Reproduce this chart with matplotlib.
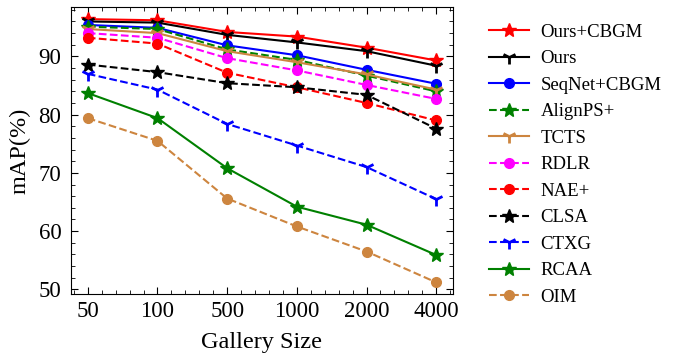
import matplotlib
matplotlib.use("Agg")
import matplotlib.pyplot as plt
from matplotlib.ticker import MultipleLocator

plt.rcParams['font.family'] = ['Liberation Serif', 'DejaVu Serif']
plt.rcParams['mathtext.fontset'] = 'stix'

gallery = ["50", "100", "500", "1000", "2000", "4000"]

ours_cbgm = [96.4, 96.2, 94.2, 93.4, 91.5, 89.3]
ours = [96.0, 95.8, 93.7, 92.4, 90.9, 88.4]
seqnet_cbgm = [95.4, 94.9, 91.9, 90.2, 87.7, 85.3]
alignps = [95.1, 94.7, 91.2, 89.4, 86.7, 84.0]
tcts = [94.7, 94.0, 90.9, 89.0, 86.9, 84.3]
rdlr = [94.0, 93.2, 89.7, 87.6, 85.1, 82.7]
nae = [93.2, 92.2, 87.2, 84.7, 82.0, 79.0]
clsa = [88.6, 87.3, 85.4, 84.7, 83.4, 77.6]
ctxg = [87.0, 84.3, 78.4, 74.7, 71.0, 65.5]
rcaa = [83.7, 79.4, 70.8, 64.2, 61.1, 55.9]
oim = [79.4, 75.5, 65.6, 60.8, 56.5, 51.2]

series = [
    ("Ours+CBGM", ours_cbgm, "red", "-", "*"),
    ("Ours", ours, "black", "-", "1"),
    ("SeqNet+CBGM", seqnet_cbgm, "blue", "-", "o"),
    ("AlignPS+", alignps, "green", "--", "*"),
    ("TCTS", tcts, "peru", "-", "1"),
    ("RDLR", rdlr, "magenta", "--", "o"),
    ("NAE+", nae, "red", "--", "o"),
    ("CLSA", clsa, "black", "--", "*"),
    ("CTXG", ctxg, "blue", "--", "1"),
    ("RCAA", rcaa, "green", "-", "*"),
    ("OIM", oim, "peru", "--", "o"),
]

fig = plt.figure(figsize=(6.77, 3.63), dpi=100)
ax = fig.add_axes([0.105, 0.19, 0.564, 0.791])
x = list(range(len(gallery)))
for name, vals, color, ls, mk in series:
    ms = 10 if mk == "*" else (7 if mk == "o" else 10)
    mew = 2 if mk == "1" else 1
    ax.plot(x, vals, color=color, linestyle=ls, marker=mk, markersize=ms,
            markeredgewidth=mew, linewidth=1.5, label=name)

ax.set_xticks(x)
ax.set_xticklabels(gallery)
ax.set_xlim(-0.24, 5.24)
ax.set_ylim(49.2, 98.5)
ax.yaxis.set_major_locator(MultipleLocator(10))
ax.yaxis.set_minor_locator(MultipleLocator(2))
ax.xaxis.set_minor_locator(MultipleLocator(0.2))
ax.tick_params(which='both', direction='in', top=True, right=True, labelsize=16.5)
ax.tick_params(which='major', length=5, width=0.8)
ax.tick_params(which='minor', length=3, width=0.6)
ax.tick_params(axis='x', which='major', pad=5)
ax.tick_params(axis='y', which='major', pad=7)
ax.set_xlabel("Gallery Size", fontsize=17.5, labelpad=7)
ax.set_ylabel("mAP(%)", fontsize=17.5, labelpad=6)
ax.legend(loc='center left', bbox_to_anchor=(1.05, 0.45), frameon=False,
          fontsize=13.5, handlelength=2.15, handletextpad=0.6, labelspacing=0.5)
fig.savefig("out.png", dpi=100)
